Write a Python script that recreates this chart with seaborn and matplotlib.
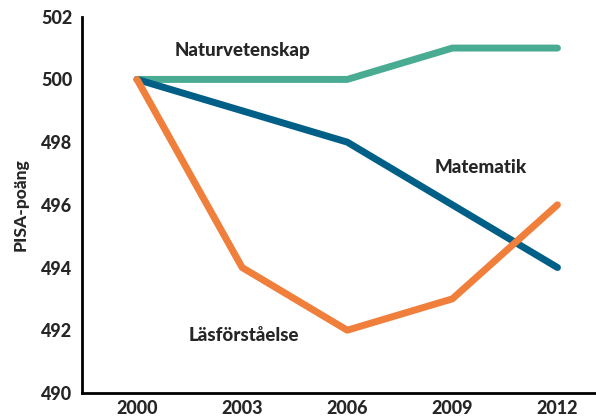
import pandas as pd
import matplotlib
matplotlib.use('Agg')
import matplotlib.pyplot as plt
import seaborn as sns

# Data
years = [2000, 2003, 2006, 2009, 2012]
naturvetenskap = [500, 500, 500, 501, 501]
matematik = [500, 499, 498, 496, 494]
lasforstaelse = [500, 494, 492, 493, 496]

amnen = ['Naturvetenskap', 'Matematik', 'Läsförståelse']
farger = ['#4aab93', '#005f87', '#f07f3c']

df = pd.DataFrame({
    'År': years * 3,
    'Poäng': naturvetenskap + matematik + lasforstaelse,
    'Ämne': [a for a in amnen for _ in years],
})

sns.set_style('white')
plt.rcParams['font.family'] = ['Lato', 'DejaVu Sans']
vikt = 'black'

fig = plt.figure(figsize=(5.96, 4.18), dpi=100)
ax = fig.add_axes([0.1376, 0.06, 0.8624, 0.9])

sns.lineplot(data=df, x='År', y='Poäng', hue='Ämne', palette=farger,
             hue_order=amnen, linewidth=5, legend=False, ax=ax,
             solid_capstyle='round', solid_joinstyle='round')

# Etiketter vid linjerna
ax.text(2003.0, 500.93, 'Naturvetenskap', ha='center', va='center', fontsize=13.5, fontweight=vikt)
ax.text(2009.8, 497.2, 'Matematik', ha='center', va='center', fontsize=13.5, fontweight=vikt)
ax.text(2003.05, 491.83, 'Läsförståelse', ha='center', va='center', fontsize=13.5, fontweight=vikt)

ax.set_xlim(1998.43, 2013.1)
ax.set_ylim(490, 502)
ax.set_xticks(years)
ax.set_yticks(range(490, 503, 2))
ax.tick_params(axis='both', length=0, labelsize=13)
ax.tick_params(axis='x', pad=5)
ax.tick_params(axis='y', pad=7)
for lbl in ax.get_xticklabels() + ax.get_yticklabels():
    lbl.set_fontweight(vikt)

ax.set_xlabel('')
ax.set_ylabel('PISA-poäng', fontsize=12.5, fontweight=vikt, labelpad=9)

sns.despine(ax=ax)
for side in ['left', 'bottom']:
    ax.spines[side].set_color('black')
    ax.spines[side].set_linewidth(2)

plt.savefig('out.png', dpi=100)
